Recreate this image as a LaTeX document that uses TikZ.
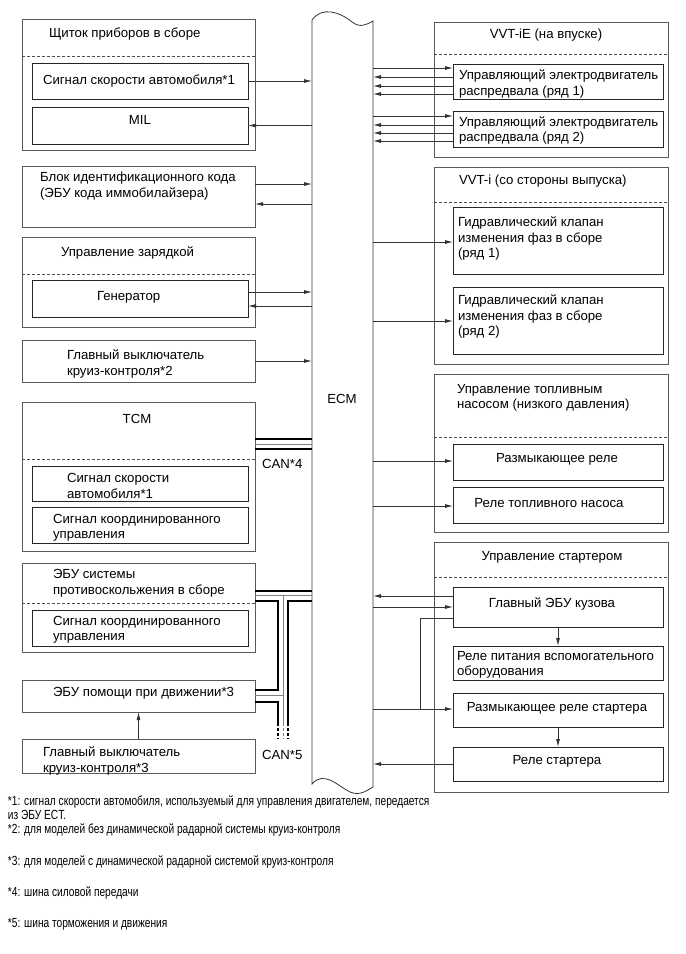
\documentclass[tikz,border=0pt]{standalone}
\usepackage{fontspec}
\setmainfont{Liberation Sans}
\newfontfamily\notefont[FakeStretch=0.77]{Liberation Sans}
\usetikzlibrary{arrows.meta}

\begin{document}
\begin{tikzpicture}[x=1pt, y=-1pt,
	every node/.style={font=\fontsize{13.2}{15.5}\selectfont, inner sep=0pt, outer sep=0pt},
	blk/.style={draw=black!65, line width=0.9pt, anchor=north west},
	sub/.style={draw=black!85, line width=0.9pt, anchor=north west},
	lbl/.style={yshift=-1.5pt},
	txt/.style={lbl, anchor=west, align=left},
	note/.style={anchor=west, align=left, font=\notefont\fontsize{13.2}{14}\selectfont},
	sepl/.style={draw=black!70, line width=0.7pt, dash pattern=on 3pt off 2pt},
	wire/.style={draw=black!80, line width=0.8pt},
	arr/.style={wire, -{Latex[length=8pt,width=4pt]}},
	fat/.style={draw=black, line width=2.6pt},
	slim/.style={draw=black!50, line width=0.8pt}]
	\useasboundingbox (0,0) rectangle (686,954);

	\foreach \nm/\xa/\ya/\xb/\yb in {pan/22/19/255/150, imm/22/166/255/227, chg/22/237/255/327, crs/22/340/255/382,
		tcm/22/402/255/551, vsc/22/563/255/652, drv/22/680/255/712, crt/22/739/255/773,
		vvte/434/22/668/157, vvti/434/167/668/364, fpc/434/374/668/532, stc/434/542/668/792}
		\node[blk, minimum width={(\xb-\xa)*1pt}, minimum height={(\yb-\ya)*1pt}] (\nm) at (\xa,\ya) {};
	\foreach \nm/\xa/\ya/\xb/\yb in {spd/32/63/248/99, mil/32/107/248/144, gen/32/280/248/317,
		tspd/32/466/248/501, tcoo/32/507/248/543, vcoo/32/610/248/646,
		cam1/453/64/663/99, cam2/453/111/663/147, ocv1/453/207/663/274, ocv2/453/287/663/354,
		cor/453/444/663/480, fpr/453/487/663/523, bdy/453/587/663/627, acc/453/646/663/680,
		stcut/453/693/663/727, str/453/747/663/781}
		\node[sub, minimum width={(\xb-\xa)*1pt}, minimum height={(\yb-\ya)*1pt}] (\nm) at (\xa,\ya) {};
	\foreach \nm/\y in {pan/56, chg/274, tcm/459, vsc/603, vvte/54, vvti/202, fpc/437, stc/577}
		\draw[sepl] (\nm.west |- 0,\y) -- (\nm.east |- 0,\y);

	\node[minimum width=61pt, minimum height=766pt, anchor=north west] (ecm) at (312,20) {};
	\draw[wire] (312,20) .. controls (322,6) and (340,12) .. (352,22) .. controls (360,28) and (366,25) .. (373,21)
		-- (373,787) .. controls (366,791) and (360,796) .. (350,792) .. controls (338,786) and (324,770) .. (312,784) -- cycle;
	\node[lbl] (ecm-t) at (342,397) {ECM};

	\node[txt] (pan-t) at (49,33) {Щиток приборов в сборе};
	\node[txt] (spd-t) at (43,80) {Сигнал скорости автомобиля*1};
	\node[lbl] (mil-t) at (140,118) {MIL};
	\node[txt] (imm-t) at (40,184.5) {Блок идентификационного кода\\(ЭБУ кода иммобилайзера)};
	\node[txt] (chg-t) at (61,251) {Управление зарядкой};
	\node[txt] (gen-t) at (97,296) {Генератор};
	\node[txt] (crs-t) at (67,362.5) {Главный выключатель\\круиз-контроля*2};
	\node[lbl] (tcm-t) at (137,417) {TCM};
	\node[txt] (tspd-t) at (67,484.5) {Сигнал скорости\\автомобиля*1};
	\node[txt] (tcoo-t) at (53,526.5) {Сигнал координированного\\управления};
	\node[txt] (vsc-t) at (53,582) {ЭБУ системы\\противоскольжения в сборе};
	\node[txt] (vcoo-t) at (53,628.5) {Сигнал координированного\\управления};
	\node[txt] (drv-t) at (53,692) {ЭБУ помощи при движении*3};
	\node[txt] (crt-t) at (43,759.5) {Главный выключатель\\круиз-контроля*3};
	\node[txt] (can4) at (262,462) {CAN*4};
	\node[txt] (can5) at (262,753) {CAN*5};

	\node[lbl] (vvte-t) at (546,34) {VVT-iE (на впуске)};
	\node[txt] (cam1-t) at (459,82.5) {Управляющий электродвигатель\\распредвала (ряд 1)};
	\node[txt] (cam2-t) at (459,129) {Управляющий электродвигатель\\распредвала (ряд 2)};
	\node[txt] (vvti-t) at (459,180) {VVT-i (со стороны выпуска)};
	\node[txt] (ocv1-t) at (458,237) {Гидравлический клапан\\изменения фаз в сборе\\(ряд 1)};
	\node[txt] (ocv2-t) at (458,315) {Гидравлический клапан\\изменения фаз в сборе\\(ряд 2)};
	\node[txt] (fpc-t) at (457,396.5) {Управление топливным\\насосом (низкого давления)};
	\node[lbl] (cor-t) at (557,458) {Размыкающее реле};
	\node[lbl] (fpr-t) at (549,502) {Реле топливного насоса};
	\node[lbl] (stc-t) at (552,556) {Управление стартером};
	\node[lbl] (bdy-t) at (552,602) {Главный ЭБУ кузова};
	\node[txt] (acc-t) at (457,663.5) {Реле питания вспомогательного\\оборудования};
	\node[lbl] (stcut-t) at (557,707) {Размыкающее реле стартера};
	\node[lbl] (str-t) at (557,760) {Реле стартера};

	\draw[arr] (spd.east) -- (spd.east -| ecm.west);
	\draw[arr] (ecm.west |- mil.east) -- (mil.east);
	\draw[arr] (imm.east |- 0,184) -- (ecm.west |- 0,184);
	\draw[arr] (ecm.west |- 0,204) -- (imm.east |- 0,204);
	\draw[arr] (gen.east |- 0,292) -- (ecm.west |- 0,292);
	\draw[arr] (ecm.west |- 0,306) -- (gen.east |- 0,306);
	\draw[arr] (crs.east) -- (crs.east -| ecm.west);
	\draw[arr] (crt.north) -- (drv.south);

	\draw[arr] (ecm.east |- 0,68) -- (cam1.west |- 0,68);
	\foreach \y in {77,86,94}
		\draw[arr] (cam1.west |- 0,\y) -- (ecm.east |- 0,\y);
	\draw[arr] (ecm.east |- 0,116) -- (cam2.west |- 0,116);
	\foreach \y in {125,133,141}
		\draw[arr] (cam2.west |- 0,\y) -- (ecm.east |- 0,\y);
	\draw[arr] (ecm.east |- 0,242) -- (ocv1.west |- 0,242);
	\draw[arr] (ecm.east |- 0,321) -- (ocv2.west |- 0,321);
	\draw[arr] (ecm.east |- 0,461) -- (cor.west |- 0,461);
	\draw[arr] (ecm.east |- 0,506) -- (fpr.west |- 0,506);
	\draw[arr] (bdy.west |- 0,596) -- (ecm.east |- 0,596);
	\draw[arr] (ecm.east |- 0,607) -- (bdy.west |- 0,607);
	\coordinate (tap) at (420,709);
	\draw[wire] (bdy.west |- 0,618) -| (tap);
	\draw[arr] (ecm.east |- tap) -- (stcut.west |- tap);
	\draw[arr] (bdy.south) -- (acc.north);
	\draw[arr] (stcut.south) -- (str.north);
	\draw[arr] (str.west |- 0,764) -- (ecm.east |- 0,764);

	\draw[fat] (tcm.east |- 0,439) -- (ecm.west |- 0,439);
	\draw[slim] (tcm.east |- 0,444) -- (ecm.west |- 0,444);
	\draw[fat] (tcm.east |- 0,449) -- (ecm.west |- 0,449);

	\draw[fat] (vsc.east |- 0,591) -- (ecm.west |- 0,591);
	\draw[slim] (vsc.east |- 0,595) -- (ecm.west |- 0,595);
	\draw[fat] (vsc.east |- 0,601) -| (278,690) -- (drv.east |- 0,690);
	\draw[fat] (ecm.west |- 0,601) -| (288,723);
	\draw[slim] (283,595) -- (283,723);
	\draw[slim] (drv.east |- 0,695) -- (283,695);
	\draw[fat] (drv.east |- 0,702) -| (278,723);
	\foreach \x in {278,288}
		\draw[fat, dash pattern=on 3pt off 2pt] (\x,723) -- (\x,739);
	\draw[slim, dash pattern=on 3pt off 2pt] (283,723) -- (283,739);

	\node[note] (n1) at (8,808) {*1: сигнал скорости автомобиля, используемый для управления двигателем, передается\\из ЭБУ ECT.};
	\node[note] (n2) at (8,830) {*2: для моделей без динамической радарной системы круиз-контроля};
	\node[note] (n3) at (8,862) {*3: для моделей с динамической радарной системой круиз-контроля};
	\node[note] (n4) at (8,893) {*4: шина силовой передачи};
	\node[note] (n5) at (8,924) {*5: шина торможения и движения};
\end{tikzpicture}
\end{document}
